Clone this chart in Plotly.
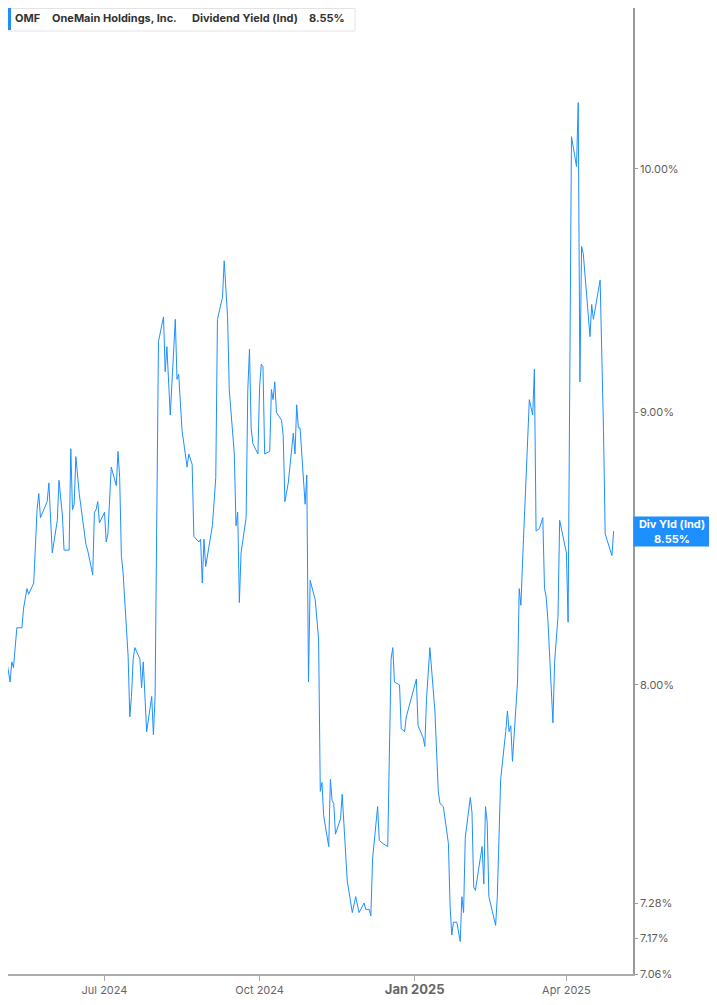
import math
import plotly.graph_objects as go

# OMF dividend yield (Ind)
dates = [
    "2024-04-30", "2024-05-01", "2024-05-02", "2024-05-03", "2024-05-06", "2024-05-07", "2024-05-08",
    "2024-05-10", "2024-05-13", "2024-05-14", "2024-05-16", "2024-05-17", "2024-05-20", "2024-05-22",
    "2024-05-23", "2024-05-24", "2024-05-28", "2024-05-29", "2024-05-31", "2024-06-03", "2024-06-04",
    "2024-06-06", "2024-06-07", "2024-06-10", "2024-06-11", "2024-06-12", "2024-06-13", "2024-06-14",
    "2024-06-16", "2024-06-20", "2024-06-21", "2024-06-24", "2024-06-25", "2024-06-26", "2024-06-27",
    "2024-06-28", "2024-07-01", "2024-07-02", "2024-07-03", "2024-07-05", "2024-07-08", "2024-07-09",
    "2024-07-10", "2024-07-11", "2024-07-12", "2024-07-15", "2024-07-16", "2024-07-17", "2024-07-18",
    "2024-07-19", "2024-07-22", "2024-07-23", "2024-07-24", "2024-07-26", "2024-07-29", "2024-07-30",
    "2024-07-31", "2024-08-02", "2024-08-05", "2024-08-06", "2024-08-07", "2024-08-09", "2024-08-12",
    "2024-08-13", "2024-08-14", "2024-08-16", "2024-08-19", "2024-08-20", "2024-08-22", "2024-08-23",
    "2024-08-26", "2024-08-27", "2024-08-28", "2024-08-29", "2024-08-30", "2024-09-03", "2024-09-05",
    "2024-09-06", "2024-09-09", "2024-09-10", "2024-09-12", "2024-09-13", "2024-09-16", "2024-09-17",
    "2024-09-18", "2024-09-19", "2024-09-20", "2024-09-23", "2024-09-24", "2024-09-25", "2024-09-26",
    "2024-09-27", "2024-09-30", "2024-10-01", "2024-10-02", "2024-10-03", "2024-10-04", "2024-10-07",
    "2024-10-08", "2024-10-09", "2024-10-10", "2024-10-11", "2024-10-14", "2024-10-15", "2024-10-16",
    "2024-10-18", "2024-10-21", "2024-10-22", "2024-10-23", "2024-10-24", "2024-10-25", "2024-10-28",
    "2024-10-29", "2024-10-30", "2024-10-31", "2024-11-03", "2024-11-05", "2024-11-06", "2024-11-07",
    "2024-11-08", "2024-11-11", "2024-11-12", "2024-11-13", "2024-11-14", "2024-11-15", "2024-11-18",
    "2024-11-19", "2024-11-22", "2024-11-25", "2024-11-27", "2024-11-29", "2024-12-02", "2024-12-03",
    "2024-12-05", "2024-12-06", "2024-12-07", "2024-12-10", "2024-12-11", "2024-12-13", "2024-12-16",
    "2024-12-18", "2024-12-19", "2024-12-20", "2024-12-23", "2024-12-24", "2024-12-26", "2024-12-27",
    "2024-12-30", "2025-01-02", "2025-01-03", "2025-01-06", "2025-01-07", "2025-01-08", "2025-01-10",
    "2025-01-13", "2025-01-15", "2025-01-16", "2025-01-18", "2025-01-21", "2025-01-22", "2025-01-23",
    "2025-01-24", "2025-01-26", "2025-01-28", "2025-01-29", "2025-01-30", "2025-01-31", "2025-02-03",
    "2025-02-04", "2025-02-05", "2025-02-06", "2025-02-10", "2025-02-11", "2025-02-12", "2025-02-13",
    "2025-02-14", "2025-02-18", "2025-02-19", "2025-02-21", "2025-02-24", "2025-02-25", "2025-02-26",
    "2025-02-27", "2025-02-28", "2025-03-03", "2025-03-04", "2025-03-05", "2025-03-06", "2025-03-10",
    "2025-03-12", "2025-03-13", "2025-03-14", "2025-03-16", "2025-03-18", "2025-03-19", "2025-03-20",
    "2025-03-21", "2025-03-24", "2025-03-25", "2025-03-27", "2025-03-28", "2025-04-01", "2025-04-02",
    "2025-04-04", "2025-04-07", "2025-04-08", "2025-04-09", "2025-04-10", "2025-04-11", "2025-04-15",
    "2025-04-16", "2025-04-17", "2025-04-21", "2025-04-23", "2025-04-24", "2025-04-28", "2025-04-29",
]

div_yield = [
    7.68, 8.19, 8.19, 8.12, 8.01, 8.08, 8.06,
    8.20, 8.20, 8.27, 8.34, 8.32, 8.36, 8.63,
    8.69, 8.60, 8.66, 8.73, 8.47, 8.59, 8.74,
    8.61, 8.48, 8.48, 8.86, 8.63, 8.65, 8.83,
    8.69, 8.50, 8.48, 8.39, 8.62, 8.63, 8.66,
    8.58, 8.62, 8.51, 8.54, 8.79, 8.72, 8.85,
    8.75, 8.46, 8.40, 8.10, 7.89, 7.96, 8.09,
    8.13, 8.09, 7.99, 8.08, 7.84, 7.96, 7.83,
    7.96, 9.28, 9.38, 9.16, 9.26, 8.99, 9.37,
    9.13, 9.15, 8.93, 8.79, 8.84, 8.80, 8.53,
    8.51, 8.52, 8.36, 8.52, 8.42, 8.57, 8.75,
    9.37, 9.46, 9.61, 9.38, 9.09, 8.84, 8.57,
    8.62, 8.29, 8.47, 8.60, 9.09, 9.25, 8.94,
    8.88, 8.84, 9.10, 9.19, 9.18, 8.84, 8.85,
    9.09, 9.05, 9.12, 9.00, 8.97, 8.91, 8.66,
    8.73, 8.92, 8.84, 9.03, 8.94, 8.94, 8.65,
    8.76, 8.01, 8.37, 8.30, 8.16, 7.64, 7.67,
    7.56, 7.46, 7.68, 7.61, 7.60, 7.50, 7.55,
    7.63, 7.35, 7.25, 7.30, 7.25, 7.28, 7.26,
    7.26, 7.24, 7.42, 7.59, 7.48, 7.47, 7.46,
    8.09, 8.13, 8.01, 8.00, 7.85, 7.84, 7.89,
    7.96, 8.02, 7.86, 7.82, 7.79, 7.95, 8.13,
    7.91, 7.64, 7.60, 7.59, 7.47, 7.27, 7.18,
    7.22, 7.22, 7.16, 7.30, 7.25, 7.49, 7.62,
    7.57, 7.33, 7.32, 7.46, 7.34, 7.59, 7.54,
    7.30, 7.21, 7.30, 7.68, 7.84, 7.91, 7.84,
    7.86, 7.74, 8.01, 8.34, 8.28, 8.44, 9.05,
    8.99, 9.17, 8.55, 8.56, 8.60, 8.34, 8.31,
    8.23, 7.87, 8.08, 8.24, 8.59, 8.47, 8.22,
    10.14, 10.01, 10.29, 9.12, 9.67, 9.64, 9.30,
    9.43, 9.37, 9.53, 8.93, 8.54, 8.46, 8.55,
]

y_ticks = [7.06, 7.17, 7.28, 8.00, 9.00, 10.00]
x_ticks = ["2024-07-01", "2024-10-01", "2025-01-01", "2025-04-01"]
x_tick_text = ["Jul 2024", "Oct 2024",
               "<span style='font-size:13px;font-weight:bold;color:#666'>Jan 2025</span>",
               "Apr 2025"]

last_value = div_yield[-1]
blue = "#1e8fff"
font = "Inter, Roboto, sans-serif"

# the page body adds an 8px margin, so the figure is 8px smaller than the window
W, H = 709, 997
PW, PH = 625, 966  # plot area in px

fig = go.Figure()
fig.add_trace(go.Scatter(
    x=dates, y=div_yield, mode="lines",
    line=dict(color=blue, width=1),
    hoverinfo="skip", showlegend=False,
))

fig.update_layout(
    width=W, height=H,
    margin=dict(l=0, r=W - PW, t=0, b=H - PH),
    paper_bgcolor="white", plot_bgcolor="white",
    font=dict(family=font, size=11, color="#666"),
    showlegend=False,
    xaxis=dict(
        range=["2024-05-04 18:00", "2025-05-10 12:00"],
        tickvals=x_ticks, ticktext=x_tick_text,
        showgrid=False, zeroline=False,
        showline=True, linecolor="#aaa", linewidth=2,
        ticks="outside", ticklen=5, tickcolor="#aaa",
        tickfont=dict(size=11, color="#666"),
    ),
    yaxis=dict(
        type="log", side="right",
        range=[math.log10(7.06), math.log10(10.72)],
        tickvals=y_ticks, ticktext=[f"{v:.2f}%" for v in y_ticks],
        showgrid=False, zeroline=False,
        showline=True, linecolor="#999", linewidth=1.5,
        ticks="outside", ticklen=3, tickcolor="#999",
        tickfont=dict(size=11, color="#5f5f5f"),
    ),
)

# header box, top left
fig.add_shape(type="rect", xref="paper", yref="paper",
              x0=0.5 / PW, x1=347 / PW, y0=1 - 23 / PH, y1=1 - 0.5 / PH,
              line=dict(color="#e3e3e3", width=1), fillcolor="white", layer="above")
fig.add_shape(type="rect", xref="paper", yref="paper",
              x0=0, x1=3 / PW, y0=1 - 22 / PH, y1=1,
              line=dict(width=0), fillcolor=blue, layer="above")
header = [("OMF", 5), ("OneMain Holdings, Inc.", 42), ("Dividend Yield (Ind)", 182),
          (f"{last_value:.2f}%", 299)]
for txt, px in header:
    fig.add_annotation(text=f"<b>{txt}</b>", xref="paper", yref="paper",
                       x=px / PW, y=1 - 10 / PH, xanchor="left", yanchor="middle",
                       showarrow=False, font=dict(family=font, size=11, color="#333"))

# last value badge on the right axis
fig.add_annotation(text=f"<b>Div Yld (Ind)<br>{last_value:.2f}%</b>",
                   xref="paper", yref="y", x=1, y=math.log10(last_value),
                   xanchor="left", yanchor="middle", showarrow=False,
                   bgcolor=blue, width=76, height=29, borderpad=0,
                   font=dict(family=font, size=11, color="white"))

fig.write_html("out.html", config={"displayModeBar": False})
